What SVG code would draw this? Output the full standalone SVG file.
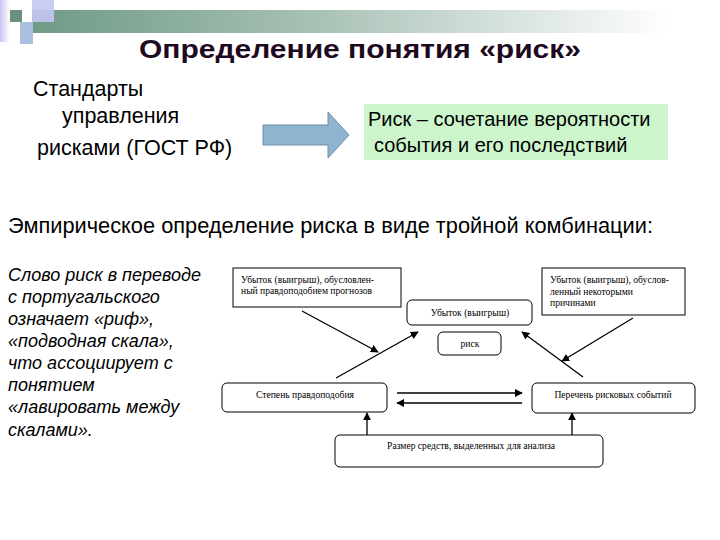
<svg xmlns="http://www.w3.org/2000/svg" width="720" height="540" viewBox="0 0 720 540">
<defs>
<linearGradient id="bar" x1="0" y1="0" x2="1" y2="0">
<stop offset="0" stop-color="#6f9a86"/>
<stop offset="0.45" stop-color="#a9c2b6"/>
<stop offset="1" stop-color="#ffffff"/>
</linearGradient>
<linearGradient id="edge" x1="0" y1="0" x2="1" y2="0">
<stop offset="0" stop-color="#c8c8f4"/>
<stop offset="1" stop-color="#ffffff"/>
</linearGradient>
<marker id="ah" viewBox="0 0 10 10" refX="9" refY="5" markerWidth="8" markerHeight="8" markerUnits="userSpaceOnUse" orient="auto">
<path d="M0,0 L10,5 L0,10 z" fill="#000"/>
</marker>
</defs>
<style>
.main{font-family:"Liberation Sans",Arial,sans-serif;fill:#000}
.title{font-family:"Liberation Sans",Arial,sans-serif;font-weight:bold;fill:#1e0a1e}
.it{font-family:"Liberation Sans",Arial,sans-serif;font-style:italic;font-size:18px;fill:#000}
.sm{font-family:"Liberation Serif","Times New Roman",serif;font-size:9.6px;fill:#000}
.box{fill:#fff;stroke:#000;stroke-width:1}
.ln{stroke:#000;stroke-width:1.3;fill:none}
</style>
<rect width="720" height="540" fill="#fff"/>
<g id="decor">
<rect x="0" y="0" width="10" height="42" fill="url(#edge)"/>
<rect x="32" y="10" width="640" height="23" fill="url(#bar)"/>
<rect x="10" y="10" width="12" height="12" fill="#6b8f7d"/>
<rect x="32" y="0" width="22" height="22" fill="#c4c6f2" opacity="0.9"/>
<rect x="20" y="22" width="13" height="22" fill="#a9bfe0"/>
</g>
<text class="title" x="360" y="58" font-size="25" text-anchor="middle" textLength="442" lengthAdjust="spacingAndGlyphs">Определение понятия «риск»</text>
<g id="standards">
<text class="main" font-size="21.5" x="33" y="96">Стандарты</text>
<text class="main" font-size="21.5" x="62" y="123">управления</text>
<text class="main" font-size="21.5" x="37" y="155">рисками (ГОСТ РФ)</text>
</g>
<g id="blockarrow">
<path d="M263,125 L328,125 L328,112 L349,135 L328,158 L328,145 L263,145 z" fill="#8fb4d0" stroke="#6f8ea5" stroke-width="1"/>
</g>
<g id="definition">
<rect x="364" y="104" width="304" height="56" fill="#ccf5cc"/>
<text class="main" font-size="20" x="368" y="126">Риск – сочетание вероятности</text>
<text class="main" font-size="20" x="374" y="152">события и его последствий</text>
</g>
<text class="main" font-size="21.8" x="8" y="233">Эмпирическое определение риска в виде тройной комбинации:</text>
<g id="note">
<text class="it" x="8" y="281">Слово риск в переводе</text>
<text class="it" x="8" y="303">с португальского</text>
<text class="it" x="8" y="325">означает «риф»,</text>
<text class="it" x="8" y="347">«подводная скала»,</text>
<text class="it" x="8" y="369">что ассоциирует с</text>
<text class="it" x="8" y="391">понятием</text>
<text class="it" x="8" y="413">«лавировать между</text>
<text class="it" x="8" y="436">скалами».</text>
</g>
<g id="connectors">
<line class="ln" x1="302" y1="311" x2="378" y2="352" marker-end="url(#ah)"/>
<line class="ln" x1="336" y1="378" x2="418" y2="332" marker-end="url(#ah)"/>
<line class="ln" x1="583" y1="377" x2="522" y2="332" marker-end="url(#ah)"/>
<line class="ln" x1="633" y1="318" x2="562" y2="361" marker-end="url(#ah)"/>
<line class="ln" x1="397" y1="393" x2="522" y2="393" marker-end="url(#ah)"/>
<line class="ln" x1="522" y1="403" x2="397" y2="403" stroke-width="2" marker-end="url(#ah)"/>
<line class="ln" x1="367" y1="435" x2="367" y2="413" stroke-width="2" marker-end="url(#ah)"/>
<line class="ln" x1="572" y1="435" x2="572" y2="413" stroke-width="2" marker-end="url(#ah)"/>
</g>
<g id="boxA">
<rect class="box" x="233" y="268" width="168" height="39"/>
<text class="sm" x="241" y="283">Убыток (выигрыш), обусловлен-</text>
<text class="sm" x="241" y="294">ный правдоподобием прогнозов</text>
</g>
<g id="boxB">
<rect class="box" x="542" y="268" width="143" height="47"/>
<text class="sm" x="550" y="283">Убыток (выигрыш), обуслов-</text>
<text class="sm" x="550" y="295">ленный некоторыми</text>
<text class="sm" x="550" y="306">причинами</text>
</g>
<g id="loss">
<rect class="box" x="407" y="300" width="125" height="25" rx="5"/>
<text class="sm" x="470" y="316" font-size="12.5" text-anchor="middle">Убыток (выигрыш)</text>
</g>
<g id="risk">
<rect class="box" x="438" y="332" width="63" height="23" rx="5"/>
<text class="sm" x="470" y="347" font-size="12" text-anchor="middle">риск</text>
</g>
<g id="likelihood">
<rect class="box" x="222" y="383" width="165" height="29" rx="5"/>
<text class="sm" x="305" y="398" font-size="10" text-anchor="middle">Степень правдоподобия</text>
</g>
<g id="events">
<rect class="box" x="532" y="383" width="163" height="30" rx="5"/>
<text class="sm" x="613" y="398" font-size="10" text-anchor="middle">Перечень рисковых событий</text>
</g>
<g id="funds">
<rect class="box" x="335" y="435" width="268" height="32" rx="5"/>
<text class="sm" x="471" y="449" font-size="10" text-anchor="middle">Размер средств, выделенных для анализа</text>
</g>
</svg>
